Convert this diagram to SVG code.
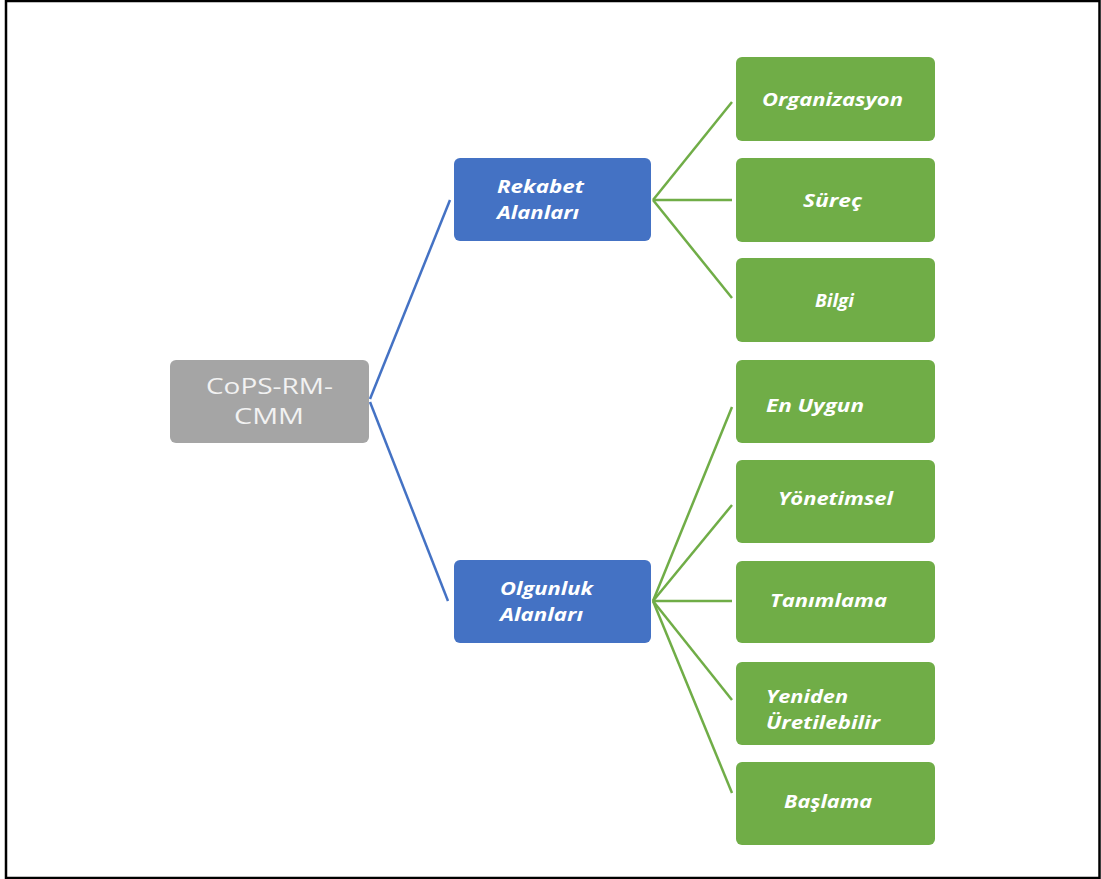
<svg xmlns="http://www.w3.org/2000/svg" width="1101" height="879" viewBox="0 0 1101 879">
<style>
.root{fill:#A5A5A5}
.blue{fill:#4472C4}
.green{fill:#70AD47}
.t{font-family:"Open Sans","Liberation Sans",sans-serif;font-weight:bold;font-style:italic;font-size:17px;fill:#FFFFFF}
.rt{font-family:"Open Sans","Liberation Sans",sans-serif;font-size:22px;fill:#F2F2F2}
.cb{stroke:#4472C4;stroke-width:2.5;fill:none}
.cg{stroke:#70AD47;stroke-width:2.5;fill:none}
</style>
<rect x="0" y="0" width="1101" height="879" fill="#FFFFFF"/>
<path d="M6,0 V878 H1099.5 V1 H6" fill="none" stroke="#000000" stroke-width="2.5"/>
<g id="connectors">
<path class="cb" d="M370,399 L450,200"/>
<path class="cb" d="M370,402 L448,601"/>
<path class="cg" d="M653,200 L732,102"/>
<path class="cg" d="M653,200 L732,200"/>
<path class="cg" d="M653,200 L732,298"/>
<path class="cg" d="M653,601 L732,407"/>
<path class="cg" d="M653,601 L732,505"/>
<path class="cg" d="M653,601 L732,601"/>
<path class="cg" d="M653,601 L732,700"/>
<path class="cg" d="M653,601 L732,793"/>
</g>
<g id="root">
<rect class="root" x="170" y="360" width="199" height="83" rx="6"/>
<text class="rt" x="206" y="394" textLength="127" lengthAdjust="spacingAndGlyphs">CoPS-RM-</text>
<text class="rt" x="234" y="424" textLength="70" lengthAdjust="spacingAndGlyphs">CMM</text>
</g>
<g id="rekabet">
<rect class="blue" x="454" y="158" width="197" height="83" rx="6"/>
<text class="t" x="497" y="193" textLength="87" lengthAdjust="spacingAndGlyphs">Rekabet</text>
<text class="t" x="497" y="219" textLength="82" lengthAdjust="spacingAndGlyphs">Alanları</text>
</g>
<g id="olgunluk">
<rect class="blue" x="454" y="560" width="197" height="83" rx="6"/>
<text class="t" x="500" y="595" textLength="93" lengthAdjust="spacingAndGlyphs">Olgunluk</text>
<text class="t" x="500" y="621" textLength="83" lengthAdjust="spacingAndGlyphs">Alanları</text>
</g>
<g id="organizasyon">
<rect class="green" x="736" y="57" width="199" height="84" rx="6"/>
<text class="t" x="762" y="106" textLength="141" lengthAdjust="spacingAndGlyphs">Organizasyon</text>
</g>
<g id="surec">
<rect class="green" x="736" y="158" width="199" height="84" rx="6"/>
<text class="t" x="803" y="207" textLength="59" lengthAdjust="spacingAndGlyphs">Süreç</text>
</g>
<g id="bilgi">
<rect class="green" x="736" y="258" width="199" height="84" rx="6"/>
<text class="t" x="815" y="307" textLength="39" lengthAdjust="spacingAndGlyphs">Bilgi</text>
</g>
<g id="enuygun">
<rect class="green" x="736" y="360" width="199" height="83" rx="6"/>
<text class="t" x="766" y="412" textLength="98" lengthAdjust="spacingAndGlyphs">En Uygun</text>
</g>
<g id="yonetimsel">
<rect class="green" x="736" y="460" width="199" height="83" rx="6"/>
<text class="t" x="778" y="505" textLength="115" lengthAdjust="spacingAndGlyphs">Yönetimsel</text>
</g>
<g id="tanimlama">
<rect class="green" x="736" y="561" width="199" height="82" rx="6"/>
<text class="t" x="770" y="607" textLength="117" lengthAdjust="spacingAndGlyphs">Tanımlama</text>
</g>
<g id="yeniden">
<rect class="green" x="736" y="662" width="199" height="83" rx="6"/>
<text class="t" x="766" y="703" textLength="82" lengthAdjust="spacingAndGlyphs">Yeniden</text>
<text class="t" x="766" y="729" textLength="114" lengthAdjust="spacingAndGlyphs">Üretilebilir</text>
</g>
<g id="baslama">
<rect class="green" x="736" y="762" width="199" height="83" rx="6"/>
<text class="t" x="784" y="808" textLength="88" lengthAdjust="spacingAndGlyphs">Başlama</text>
</g>
</svg>
